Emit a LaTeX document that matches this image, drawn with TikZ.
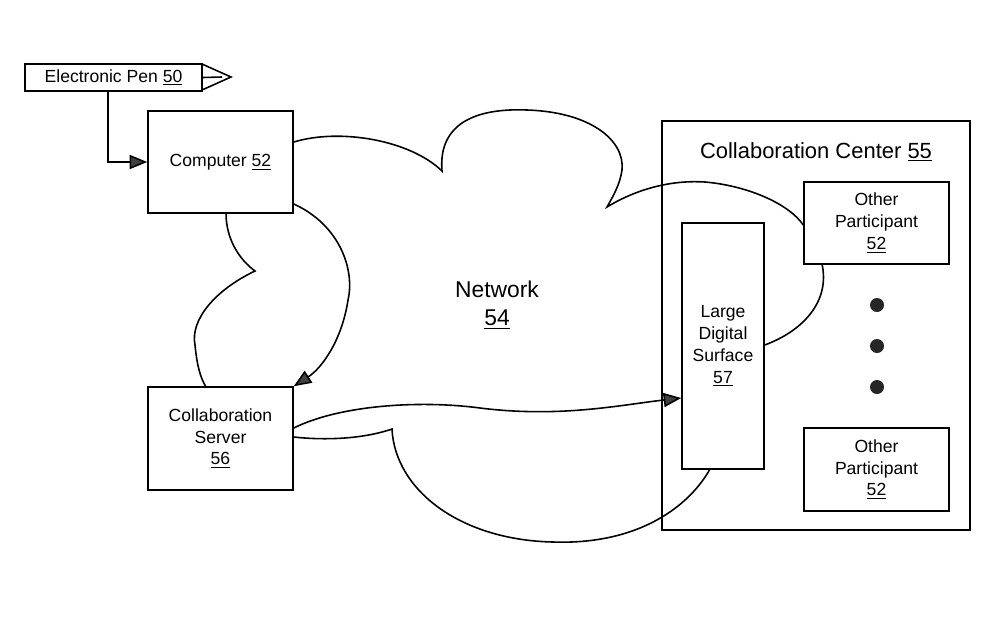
\documentclass[tikz,border=0pt]{standalone}
\usepackage{fontspec}
\setmainfont{Liberation Sans}
\usetikzlibrary{arrows.meta}
\begin{document}
\begin{tikzpicture}[x=0.02cm,y=-0.02cm,
  box/.style={draw,line width=0.9pt,inner sep=0pt,align=center,font=\fontsize{10}{12.5}\selectfont},
  ln/.style={line width=0.9pt},
  tip/.style={-{Triangle[length=10pt,width=8pt,fill=black!75]}}]
\useasboundingbox (0,0) rectangle (1000,633);
% boxes
\node[box,minimum width=3.54cm,minimum height=0.54cm] (pen) at (113.5,77.5) {Electronic Pen \underline{50}};
\node[box,minimum width=2.9cm,minimum height=2.04cm] (comp) at (220.5,162) {Computer \underline{52}};
\node[box,minimum width=2.9cm,minimum height=2.06cm] (server) at (220.5,438.5) {Collaboration\\Server\\\underline{56}};
\node[box,minimum width=6.16cm,minimum height=8.18cm] (center) at (816,325.5) {};
\node[font=\fontsize{12.5}{14}\selectfont] (centerlabel) at (816,152) {Collaboration Center \underline{55}};
\node[box,minimum width=2.9cm,minimum height=1.64cm] (op1) at (876.5,223) {Other\\Participant\\\underline{52}};
\node[box,minimum width=1.64cm,minimum height=4.92cm] (lds) at (723,346) {Large\\Digital\\Surface\\\underline{57}};
\node[box,minimum width=2.9cm,minimum height=1.66cm] (op2) at (876.5,469.5) {Other\\Participant\\\underline{52}};
\node[align=center,font=\fontsize{13}{16}\selectfont] (net) at (497,305) {Network\\\underline{54}};
% dots
\foreach \yy [count=\i] in {305,346,387} \fill[black!85] (877,\yy) circle (7) coordinate (dot\i);
% pen nib
\coordinate (nibT) at (202,64);
\coordinate (nibB) at (202,90);
\coordinate (nibP) at (231,77);
\draw[ln,line join=miter] (nibT) -- (nibP) -- (nibB);
\draw[ln] (pen.east) -- (222,77);
% pen to computer
\coordinate (penbend) at (108,162);
\draw[ln,tip] (pen.south west -| penbend) -- (penbend) -- (comp.west);
% cloud
\coordinate (c1) at (442,171);
\coordinate (c2) at (607,207);
\coordinate (c3) at (392,429);
\coordinate (c4) at (255,271);
\draw[ln] (comp.east |- 0,142) .. controls (340,128) and (410,140) .. (c1)
  .. controls (438,122) and (478,108) .. (527,110)
  .. controls (590,112) and (625,140) .. (622,170)
  .. controls (620,185) and (612,198) .. (c2)
  .. controls (640,187) and (675,180) .. (705,182)
  .. controls (750,186) and (790,205) .. (op1.west |- 0,225);
\draw[ln] (822,264) .. controls (830,300) and (805,330) .. (lds.east |- 0,345);
\draw[ln] (710,469) .. controls (690,505) and (640,545) .. (553,542)
  .. controls (460,540) and (395,490) .. (c3)
  .. controls (360,440) and (320,440) .. (server.east |- 0,437);
\draw[ln] (226,213) .. controls (226,240) and (240,260) .. (c4)
  .. controls (215,290) and (190,320) .. (195,345)
  .. controls (197,365) and (200,377) .. (206,387);
% arrows
\draw[ln,tip] (comp.east |- 0,204) .. controls (340,225) and (355,270) .. (348,300)
  .. controls (342,340) and (322,368) .. (server.north east);
\draw[ln,tip] (server.east |- 0,428) .. controls (340,405) and (420,400) .. (480,408)
  .. controls (560,418) and (620,405) .. (lds.west |- 0,398);
\end{tikzpicture}
\end{document}
